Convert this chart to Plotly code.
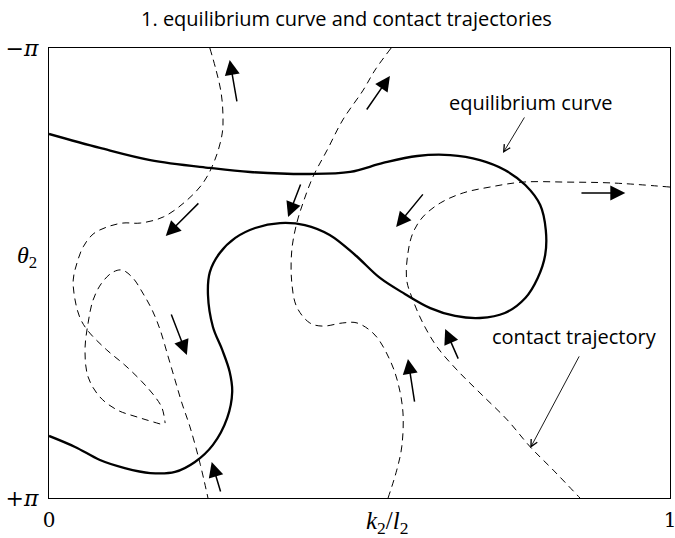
import plotly.graph_objects as go

# Axes: horizontal k2/l2 in [0, 1]; vertical theta2 in units of pi, -pi at the top.
x_tick_vals = [0, 1]
x_tick_text = ["0", "1"]
y_tick_vals = [-1, 1]
y_tick_text = ["\u2212<i>\u03c0</i>", "+<i>\u03c0</i>"]

# Equilibrium curve (k2/l2, theta2/pi)
eq_k = [0.000, 0.082, 0.163, 0.259, 0.324, 0.420, 0.485, 0.538, 0.593, 0.646,
        0.694, 0.734, 0.767, 0.791, 0.800, 0.799, 0.787, 0.767, 0.734, 0.694,
        0.654, 0.614, 0.573, 0.533, 0.493, 0.452, 0.412, 0.372, 0.332, 0.300,
        0.275, 0.259, 0.256, 0.264, 0.279, 0.291, 0.295, 0.287, 0.264, 0.235,
        0.203, 0.163, 0.122, 0.082, 0.042, 0.000]
eq_t = [-0.618, -0.556, -0.502, -0.467, -0.449, -0.440, -0.449, -0.489, -0.520, -0.524,
        -0.502, -0.458, -0.391, -0.302, -0.191, -0.080, 0.022, 0.111, 0.178, 0.200,
        0.191, 0.156, 0.093, 0.022, -0.080, -0.169, -0.213, -0.222, -0.200, -0.156,
        -0.089, -0.004, 0.098, 0.240, 0.342, 0.440, 0.529, 0.644, 0.764, 0.840,
        0.884, 0.889, 0.867, 0.831, 0.773, 0.724]

# Contact trajectory on the left: from the top edge down to a cusp ...
traj1_k = [0.259, 0.269, 0.277, 0.280, 0.279, 0.267, 0.248, 0.219, 0.184, 0.147,
           0.119, 0.093, 0.071, 0.055, 0.045, 0.039, 0.042, 0.050, 0.063, 0.093,
           0.122, 0.150, 0.171, 0.182, 0.187]
traj1_t = [-1.000, -0.902, -0.804, -0.711, -0.622, -0.502, -0.400, -0.316, -0.249, -0.222,
           -0.222, -0.204, -0.173, -0.116, -0.044, 0.031, 0.120, 0.200, 0.258, 0.342,
           0.409, 0.484, 0.551, 0.600, 0.667]
# ... and from the cusp round the inner loop to the bottom edge
traj2_k = [0.179, 0.142, 0.110, 0.082, 0.063, 0.058, 0.063, 0.071, 0.085, 0.103,
           0.118, 0.135, 0.151, 0.166, 0.179, 0.192, 0.203, 0.214, 0.227, 0.243, 0.256]
traj2_t = [0.671, 0.640, 0.609, 0.551, 0.462, 0.342, 0.222, 0.120, 0.044, -0.004,
           -0.013, 0.022, 0.089, 0.164, 0.253, 0.373, 0.476, 0.578, 0.684, 0.844, 1.000]

# Middle contact trajectory
traj3_k = [0.551, 0.525, 0.506, 0.473, 0.448, 0.425, 0.409, 0.399, 0.391, 0.391,
           0.399, 0.420, 0.441, 0.473, 0.496, 0.525, 0.549, 0.562, 0.570, 0.568,
           0.560, 0.546]
traj3_t = [-1.000, -0.902, -0.813, -0.680, -0.547, -0.427, -0.311, -0.222, -0.102, 0.044,
           0.151, 0.222, 0.236, 0.222, 0.222, 0.276, 0.387, 0.489, 0.622, 0.773,
           0.876, 1.000]

# Right contact trajectory
traj4_k = [1.000, 0.908, 0.834, 0.763, 0.710, 0.667, 0.630, 0.602, 0.586, 0.578,
           0.576, 0.586, 0.602, 0.625, 0.657, 0.694, 0.738, 0.775, 0.812, 0.855]
traj4_t = [-0.382, -0.400, -0.404, -0.404, -0.382, -0.356, -0.311, -0.249, -0.178, -0.089,
           0.031, 0.120, 0.222, 0.329, 0.431, 0.533, 0.653, 0.773, 0.876, 1.000]

# Flow direction arrows along the trajectories (tail -> head)
arr_tail_k = [0.303, 0.510, 0.406, 0.243, 0.604, 0.855, 0.196, 0.277, 0.589, 0.660]
arr_tail_t = [-0.756, -0.720, -0.400, -0.316, -0.356, -0.356, 0.178, 0.978, 0.578, 0.387]
arr_head_k = [0.291, 0.549, 0.385, 0.188, 0.559, 0.928, 0.222, 0.262, 0.578, 0.638]
arr_head_t = [-0.947, -0.876, -0.249, -0.164, -0.204, -0.356, 0.364, 0.840, 0.382, 0.249]

# Callout labels and their pointer lines
callout_text = ["equilibrium curve", "contact trajectory"]
callout_k = [0.776, 0.847]
callout_t = [-0.760, 0.284]
pointer_tail_k = [0.767, 0.855]
pointer_tail_t = [-0.698, 0.364]
pointer_tip_k = [0.731, 0.775]
pointer_tip_t = [-0.533, 0.778]

SANS = "Open Sans, DejaVu Sans, sans-serif"
SERIF = "Liberation Serif, DejaVu Serif, serif"
TICK_SERIF = "DejaVu Serif, Liberation Serif, serif"

fig = go.Figure()

dash_style = dict(color="black", width=1, dash="7px,5px")
for ks, ts in [(traj1_k, traj1_t), (traj2_k, traj2_t),
               (traj3_k, traj3_t), (traj4_k, traj4_t)]:
    fig.add_trace(go.Scatter(x=ks, y=ts, mode="lines",
                             line=dict(shape="spline", smoothing=1.0, **dash_style),
                             hoverinfo="skip", showlegend=False))

fig.add_trace(go.Scatter(x=eq_k, y=eq_t, mode="lines",
                         line=dict(color="black", width=2.3, shape="spline", smoothing=1.0),
                         hoverinfo="skip", showlegend=False))

annotations = []
for tk, tt, hk, ht in zip(arr_tail_k, arr_tail_t, arr_head_k, arr_head_t):
    annotations.append(dict(x=hk, y=ht, ax=tk, ay=tt, xref="x", yref="y",
                            axref="x", ayref="y", text="", showarrow=True,
                            arrowhead=2, arrowsize=2.0, arrowwidth=1.5,
                            arrowcolor="black", standoff=0))

for txt, ck, ct in zip(callout_text, callout_k, callout_t):
    annotations.append(dict(x=ck, y=ct, xref="x", yref="y", text=txt,
                            showarrow=False, font=dict(family=SANS, size=20, color="black"),
                            xanchor="center", yanchor="middle"))

for tk, tt, hk, ht in zip(pointer_tail_k, pointer_tail_t, pointer_tip_k, pointer_tip_t):
    annotations.append(dict(x=hk, y=ht, ax=tk, ay=tt, xref="x", yref="y",
                            axref="x", ayref="y", text="", showarrow=True,
                            arrowhead=5, arrowsize=1.5, arrowwidth=0.9,
                            arrowcolor="black", standoff=0))

# Axis names
annotations.append(dict(x=0, y=0.536, xref="paper", yref="paper",
                        text="<i>\u03b8</i><sub>2</sub>", showarrow=False,
                        xanchor="right", yanchor="middle", xshift=-10,
                        font=dict(family=SERIF, size=24, color="black")))
annotations.append(dict(x=0.545, y=0, xref="paper", yref="paper",
                        text="<i>k</i><sub>2</sub>/<i>l</i><sub>2</sub>", showarrow=False,
                        xanchor="center", yanchor="top", yshift=-7,
                        font=dict(family=SERIF, size=25, color="black")))

fig.update_layout(
    width=675, height=538,
    margin=dict(l=49, r=5, t=48, b=40),
    paper_bgcolor="white", plot_bgcolor="white",
    title=dict(text="1. equilibrium curve and contact trajectories",
               x=0.479, xref="paper", xanchor="center",
               y=1 - 19 / 538, yref="container", yanchor="middle",
               font=dict(family=SANS, size=20, color="black")),
    xaxis=dict(range=[0, 1], showgrid=False, zeroline=False, automargin=False,
               showline=True, mirror=True, linecolor="black", linewidth=1.3,
               ticks="", tickvals=x_tick_vals, ticktext=x_tick_text,
               ticklabelstandoff=4, ticklabeloverflow="allow",
               tickfont=dict(family=TICK_SERIF, size=20, color="black")),
    yaxis=dict(range=[1, -1], showgrid=False, zeroline=False, automargin=False,
               showline=True, mirror=True, linecolor="black", linewidth=1.3,
               ticks="", tickvals=y_tick_vals, ticktext=y_tick_text,
               ticklabelstandoff=5, ticklabeloverflow="allow",
               tickfont=dict(family=TICK_SERIF, size=22, color="black")),
    annotations=annotations,
)

fig.write_html("out.html")
